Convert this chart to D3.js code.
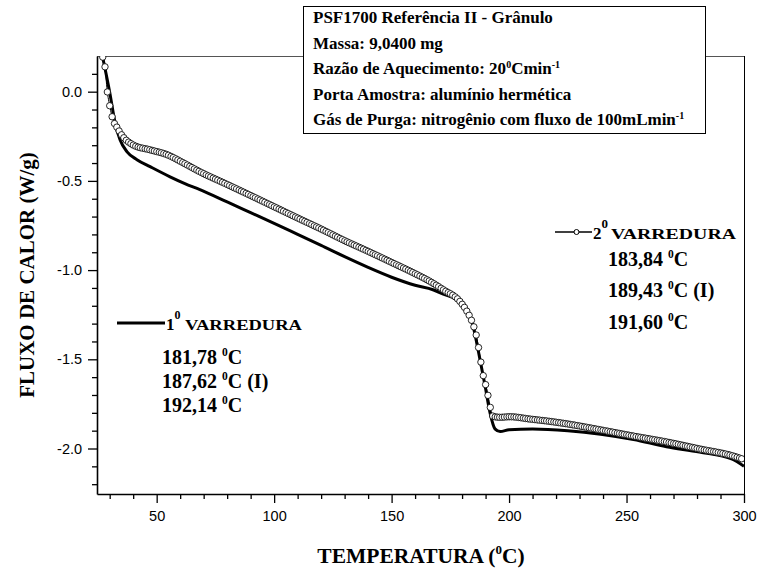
<!DOCTYPE html>
<html><head><meta charset="utf-8">
<script src="https://cdn.jsdelivr.net/npm/d3@7"></script>
<style>body{margin:0;background:#fff}</style>
</head><body><svg id="c" width="759" height="571"></svg>
<script>
// ---- data ----
const scan1T = [26.9, 30.1, 32.3, 34.4, 37.4, 41.6, 47.2, 55.7, 62, 68.4, 80, 90, 100, 110, 120, 130, 140, 150, 160, 167.6, 172, 177.9, 182.1, 184.7, 187.6, 189.8, 191.9, 194.0, 196.2, 200, 210, 225, 239, 253, 267, 281, 295, 300];
const scan1V = [0.2, -0.01, -0.175, -0.27, -0.337, -0.381, -0.42, -0.477, -0.515, -0.549, -0.618, -0.678, -0.738, -0.80, -0.862, -0.925, -0.985, -1.04, -1.085, -1.11, -1.135, -1.165, -1.22, -1.315, -1.50, -1.65, -1.80, -1.89, -1.905, -1.895, -1.89, -1.90, -1.92, -1.95, -1.99, -2.02, -2.06, -2.10];
const scan2T = [26.8, 28.0, 28.9, 30.1, 31.4, 33.1, 35.7, 39.9, 47.2, 54.4, 61.2, 68.4, 80, 90, 100, 110, 120, 130, 140, 150, 160, 166.4, 172, 179.1, 182.1, 184.2, 186.4, 187.6, 188.9, 190.2, 191.1, 191.9, 193.2, 196.2, 200.4, 208.9, 217.4, 224.7, 238.7, 252.8, 267.3, 281.3, 295.4, 300];
const scan2V = [0.2, 0.14, 0.01, -0.085, -0.158, -0.2, -0.253, -0.298, -0.326, -0.353, -0.398, -0.449, -0.52, -0.582, -0.645, -0.708, -0.77, -0.835, -0.895, -0.957, -1.02, -1.064, -1.11, -1.176, -1.232, -1.288, -1.388, -1.483, -1.584, -1.652, -1.708, -1.763, -1.82, -1.825, -1.822, -1.835, -1.848, -1.862, -1.895, -1.93, -1.964, -2.003, -2.042, -2.062];
const xTicks = [50, 100, 150, 200, 250, 300];
const yTicks = [0, -0.5, -1.0, -1.5, -2.0];
const yTickLabels = ["0.0", "-0.5", "-1.0", "-1.5", "-2.0"];
const scan1Name = ["1", "0", "VARREDURA"];
const scan2Name = ["2", "0", "VARREDURA"];
const scan1Temps = ["181,78", "187,62", "192,14"];
const scan2Temps = ["183,84", "189,43", "191,60"];
const tempSuffix = ["", " (I)", ""];

// ---- layout ----
const svg = d3.select("#c");
const L = 97, R = 744, T = 56, B = 494;
const x = d3.scaleLinear().domain([24.6, 300]).range([L, R]);
const y = d3.scaleLinear().domain([-2.255, 0.2]).range([B, T]);
const serif = "'Liberation Serif','Times New Roman',serif";
const sans = "'Liberation Sans',Arial,sans-serif";

svg.append("defs").append("clipPath").attr("id", "clip")
  .append("rect").attr("x", L).attr("y", T).attr("width", R - L).attr("height", B - T);

// frame top/right
svg.append("line").attr("x1", L).attr("x2", R).attr("y1", T + 0.5).attr("y2", T + 0.5).attr("stroke", "#555").attr("stroke-width", 1);
svg.append("line").attr("x1", R + 0.5).attr("x2", R + 0.5).attr("y1", T).attr("y2", B).attr("stroke", "#000").attr("stroke-width", 1);

// axes
const xMinor = d3.range(30, 301, 10).filter(v => v % 50 !== 0);
const yMinor = d3.range(-22, 2, 1).map(v => v / 10).filter(v => Math.abs(v * 2 - Math.round(v * 2)) > 1e-6);

const gx = svg.append("g").attr("transform", `translate(0,${B})`)
  .call(d3.axisBottom(x).tickValues(xTicks).tickFormat(d3.format("d")).tickSize(9).tickSizeOuter(0));
svg.append("g").attr("transform", `translate(0,${B})`)
  .call(d3.axisBottom(x).tickValues(xMinor).tickFormat("").tickSize(5).tickSizeOuter(0))
  .select(".domain").remove();
const gy = svg.append("g").attr("transform", `translate(${L},0)`)
  .call(d3.axisLeft(y).tickValues(yTicks).tickFormat((d, i) => yTickLabels[i]).tickSize(9).tickSizeOuter(0));
svg.append("g").attr("transform", `translate(${L},0)`)
  .call(d3.axisLeft(y).tickValues(yMinor).tickFormat("").tickSize(5).tickSizeOuter(0))
  .select(".domain").remove();
svg.selectAll(".domain").attr("stroke-width", 1.6);
svg.selectAll(".tick line").attr("stroke-width", 1.3);
gx.selectAll("text").attr("font-family", sans).attr("font-size", 14.5).attr("dy", "1.05em");
gy.selectAll("text").attr("font-family", sans).attr("font-size", 14.5).attr("dx", "-0.2em");

// axis titles
const xt = svg.append("text").attr("x", 421).attr("y", 563).attr("text-anchor", "middle")
  .attr("font-family", serif).attr("font-weight", "bold").attr("font-size", 21.5);
xt.append("tspan").text("TEMPERATURA (");
xt.append("tspan").attr("font-size", 13).attr("dy", -9).text("0");
xt.append("tspan").attr("dy", 9).text("C)");
svg.append("text").attr("transform", `translate(34,275) rotate(-90)`).attr("text-anchor", "middle")
  .attr("font-family", serif).attr("font-weight", "bold").attr("font-size", 21)
  .text("FLUXO DE CALOR (W/g)");

// curves
const s1 = scan1T.map((t, i) => [t, scan1V[i]]);
const s2 = scan2T.map((t, i) => [t, scan2V[i]]);
const line = d3.line().x(d => x(d[0])).y(d => y(d[1])).curve(d3.curveMonotoneX);
const plot = svg.append("g").attr("clip-path", "url(#clip)");
plot.append("path").attr("d", line(s1)).attr("fill", "none").attr("stroke", "#000").attr("stroke-width", 3).attr("stroke-linejoin", "round");
const p2 = plot.append("path").attr("d", line(s2)).attr("fill", "none").attr("stroke", "#000").attr("stroke-width", 1);

// open-circle markers placed along the drawn 2nd-scan line, one per degree
const node = p2.node(), len = node.getTotalLength();
const marks = [];
let target = Math.ceil(scan2T[0]);
for (let l = 0; l <= len; l += 0.25) {
  const p = node.getPointAtLength(l);
  if (p.x >= x(target)) { marks.push([p.x, p.y]); target += 1; }
}
plot.selectAll("circle.m").data(marks).join("circle").attr("class", "m")
  .attr("cx", d => d[0]).attr("cy", d => d[1]).attr("r", 3.2)
  .attr("fill", "#fff").attr("stroke", "#000").attr("stroke-width", 0.85);

// info box
const box = svg.append("g");
box.append("rect").attr("x", 303.5).attr("y", 6.5).attr("width", 402).attr("height", 127)
  .attr("fill", "#fff").attr("stroke", "#000").attr("stroke-width", 1);
const info = [
  [["PSF1700 Referência II - Grânulo", 0]],
  [["Massa: 9,0400 mg", 0]],
  [["Razão de Aquecimento: 20", 0], ["0", 1], ["Cmin", 0], ["-1", 1]],
  [["Porta Amostra: alumínio hermética", 0]],
  [["Gás de Purga: nitrogênio com fluxo de 100mLmin", 0], ["-1", 1]]
];
info.forEach((parts, i) => {
  const t = box.append("text").attr("x", 313).attr("y", 23 + i * 25.5)
    .attr("font-family", serif).attr("font-weight", "bold").attr("font-size", 17);
  let prevSup = 0;
  parts.forEach(([s, sup]) => {
    const dy = sup === prevSup ? 0 : (sup ? -6 : 6);
    t.append("tspan").attr("dy", dy).attr("font-size", sup ? 10 : 17).text(s);
    prevSup = sup;
  });
});

// legends
function legend(g, x0, x1, ly, name, circle, nameX, nameW, supSize, supDy) {
  g.append("line").attr("x1", x0).attr("x2", x1).attr("y1", ly).attr("y2", ly)
    .attr("stroke", "#000").attr("stroke-width", circle ? 1.5 : 3);
  if (circle) g.append("circle").attr("cx", (x0 + x1) / 2 + 3).attr("cy", ly).attr("r", 2.5)
    .attr("fill", "#fff").attr("stroke", "#000").attr("stroke-width", 1);
  const t = g.append("text").attr("x", x1 + 1).attr("y", ly + 7)
    .attr("font-family", serif).attr("font-weight", "bold").attr("font-size", 17);
  t.append("tspan").text(name[0]);
  t.append("tspan").attr("font-size", supSize).attr("dy", supDy).text(name[1]);
  g.append("text").attr("x", nameX).attr("y", ly + 7).attr("font-family", serif)
    .attr("font-weight", "bold").attr("font-size", 15).attr("textLength", nameW)
    .attr("lengthAdjust", "spacingAndGlyphs").text(name[2]);
}
function temps(g, tx, ys, vals) {
  vals.forEach((v, i) => {
    const t = g.append("text").attr("x", tx).attr("y", ys[i]).attr("font-family", serif)
      .attr("font-weight", "bold").attr("font-size", 20);
    t.append("tspan").text(v + " ");
    t.append("tspan").attr("font-size", 11.5).attr("dy", -8).text("0");
    t.append("tspan").attr("dy", 8).text("C" + tempSuffix[i]);
  });
}
const lg = svg.append("g");
legend(lg, 117, 165, 323, scan1Name, false, 185, 117, 12, -11);
temps(lg, 162, [364, 388, 412], scan1Temps);
legend(lg, 555, 592, 232, scan2Name, true, 611, 125, 13, -11);
temps(lg, 608, [266, 297, 329], scan2Temps);
</script></body></html>
